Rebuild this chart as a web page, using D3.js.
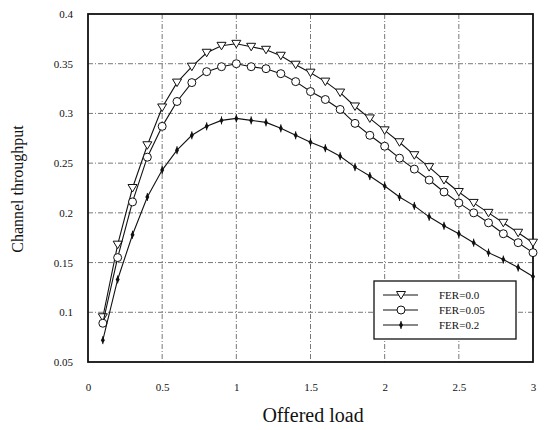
<!DOCTYPE html>
<html lang="en">
<head>
<meta charset="utf-8" />
<title>Channel throughput vs offered load</title>
<script src="https://d3js.org/d3.v7.min.js"></script>
<style>
    body { margin: 0; background: #fff; }
    text { font-family: "Liberation Serif", "DejaVu Serif", serif; fill: #111; }
    .grid line { stroke: #555; stroke-width: 0.8; stroke-dasharray: 5,2,1,2; }
</style>
</head>
<body>
<svg width="544" height="430"></svg>
<script>
// offered load values (x)
var load = [0.1, 0.2, 0.3, 0.4, 0.5, 0.6, 0.7, 0.8, 0.9, 1.0,
            1.1, 1.2, 1.3, 1.4, 1.5, 1.6, 1.7, 1.8, 1.9, 2.0,
            2.1, 2.2, 2.3, 2.4, 2.5, 2.6, 2.7, 2.8, 2.9, 3.0];

var fer00 = [0.095, 0.168, 0.225, 0.268, 0.306, 0.331, 0.347, 0.361, 0.368, 0.370,
             0.367, 0.364, 0.358, 0.349, 0.341, 0.332, 0.321, 0.307, 0.295, 0.283,
             0.271, 0.258, 0.246, 0.233, 0.221, 0.210, 0.200, 0.190, 0.180, 0.170];
var fer005 = [0.089, 0.155, 0.211, 0.256, 0.287, 0.312, 0.331, 0.342, 0.347, 0.350,
              0.347, 0.345, 0.340, 0.332, 0.322, 0.314, 0.304, 0.290, 0.278, 0.267,
              0.255, 0.244, 0.233, 0.221, 0.210, 0.200, 0.190, 0.179, 0.170, 0.160];
var fer02 = [0.072, 0.133, 0.178, 0.216, 0.243, 0.263, 0.278, 0.287, 0.293, 0.295,
             0.293, 0.291, 0.285, 0.278, 0.271, 0.265, 0.257, 0.246, 0.237, 0.227,
             0.216, 0.207, 0.196, 0.187, 0.179, 0.170, 0.160, 0.153, 0.145, 0.136];

var seriesNames = ["FER=0.0", "FER=0.05", "FER=0.2"];
var markerKinds = ["triangle", "circle", "star"];

var xTicks = [0, 0.5, 1, 1.5, 2, 2.5, 3];
var yTicks = [0.05, 0.1, 0.15, 0.2, 0.25, 0.3, 0.35, 0.4];

var svg = d3.select("svg");
var pLeft = 88, pRight = 533, pTop = 14, pBottom = 362;

var x = d3.scaleLinear().domain([0, 3]).range([pLeft, pRight]);
var y = d3.scaleLinear().domain([0.05, 0.4]).range([pBottom, pTop]);

// grid
var grid = svg.append("g").attr("class", "grid");
grid.selectAll(".gx").data(xTicks.slice(1, -1)).enter().append("line")
    .attr("x1", function (d) { return x(d); }).attr("x2", function (d) { return x(d); })
    .attr("y1", pTop).attr("y2", pBottom);
grid.selectAll(".gy").data(yTicks.slice(1, -1)).enter().append("line")
    .attr("y1", function (d) { return y(d); }).attr("y2", function (d) { return y(d); })
    .attr("x1", pLeft).attr("x2", pRight);

// axes (labels only, frame drawn separately)
var xAxis = svg.append("g").attr("transform", "translate(0," + pBottom + ")")
    .call(d3.axisBottom(x).tickValues(xTicks).tickSize(0).tickPadding(21)
        .tickFormat(function (d) { return String(d); }));
var yAxis = svg.append("g").attr("transform", "translate(" + pLeft + ",0)")
    .call(d3.axisLeft(y).tickValues(yTicks).tickSize(0).tickPadding(15)
        .tickFormat(function (d) { return String(+d.toFixed(2)); }));
[xAxis, yAxis].forEach(function (a) {
    a.select(".domain").remove();
    a.selectAll("text").style("font-family", "Liberation Serif, serif")
        .style("font-size", "11px").attr("fill", "#111");
});

// frame
svg.append("rect").attr("x", pLeft).attr("y", pTop)
    .attr("width", pRight - pLeft).attr("height", pBottom - pTop)
    .attr("fill", "none").attr("stroke", "#111").attr("stroke-width", 1.8);

// titles
svg.append("text").attr("x", 313).attr("y", 422)
    .attr("text-anchor", "middle").style("font-size", "20px").text("Offered load");
svg.append("text").attr("transform", "translate(23,189) rotate(-90)")
    .attr("text-anchor", "middle").style("font-size", "16px").text("Channel throughput");

// marker drawing
function drawMarker(g, kind) {
    if (kind === "triangle") {
        g.append("path").attr("d", "M-4.5,-3.5L4.5,-3.5L0,4Z")
            .attr("fill", "#fff").attr("stroke", "#111").attr("stroke-width", 1);
    } else if (kind === "circle") {
        g.append("circle").attr("r", 4)
            .attr("fill", "#fff").attr("stroke", "#111").attr("stroke-width", 1);
    } else {
        g.append("path").attr("d", d3.symbol(d3.symbolDiamond, 14)())
            .attr("fill", "#111");
        g.append("line").attr("x1", 0).attr("x2", 0).attr("y1", -4).attr("y2", 4)
            .attr("stroke", "#111").attr("stroke-width", 1);
    }
}

var allSeries = [fer00, fer005, fer02];
var line = d3.line()
    .x(function (d, i) { return x(load[i]); })
    .y(function (d) { return y(d); });

allSeries.forEach(function (vals, k) {
    svg.append("path").datum(vals).attr("d", line)
        .attr("fill", "none").attr("stroke", "#111").attr("stroke-width", 1.1);
    svg.append("g").selectAll("g").data(vals).enter().append("g")
        .attr("transform", function (d, i) { return "translate(" + x(load[i]) + "," + y(d) + ")"; })
        .each(function () { drawMarker(d3.select(this), markerKinds[k]); });
});

// legend
var lg = svg.append("g").attr("transform", "translate(374,281)");
lg.append("rect").attr("width", 142).attr("height", 58)
    .attr("fill", "#fff").attr("stroke", "#111").attr("stroke-width", 1.3);
seriesNames.forEach(function (name, k) {
    var row = lg.append("g").attr("transform", "translate(0," + (14 + k * 15) + ")");
    row.append("line").attr("x1", 9).attr("x2", 44).attr("stroke", "#111").attr("stroke-width", 1.1);
    drawMarker(row.append("g").attr("transform", "translate(27,0)"), markerKinds[k]);
    row.append("text").attr("x", 65).attr("y", 4).style("font-size", "11px").text(name);
});
</script>
</body>
</html>
